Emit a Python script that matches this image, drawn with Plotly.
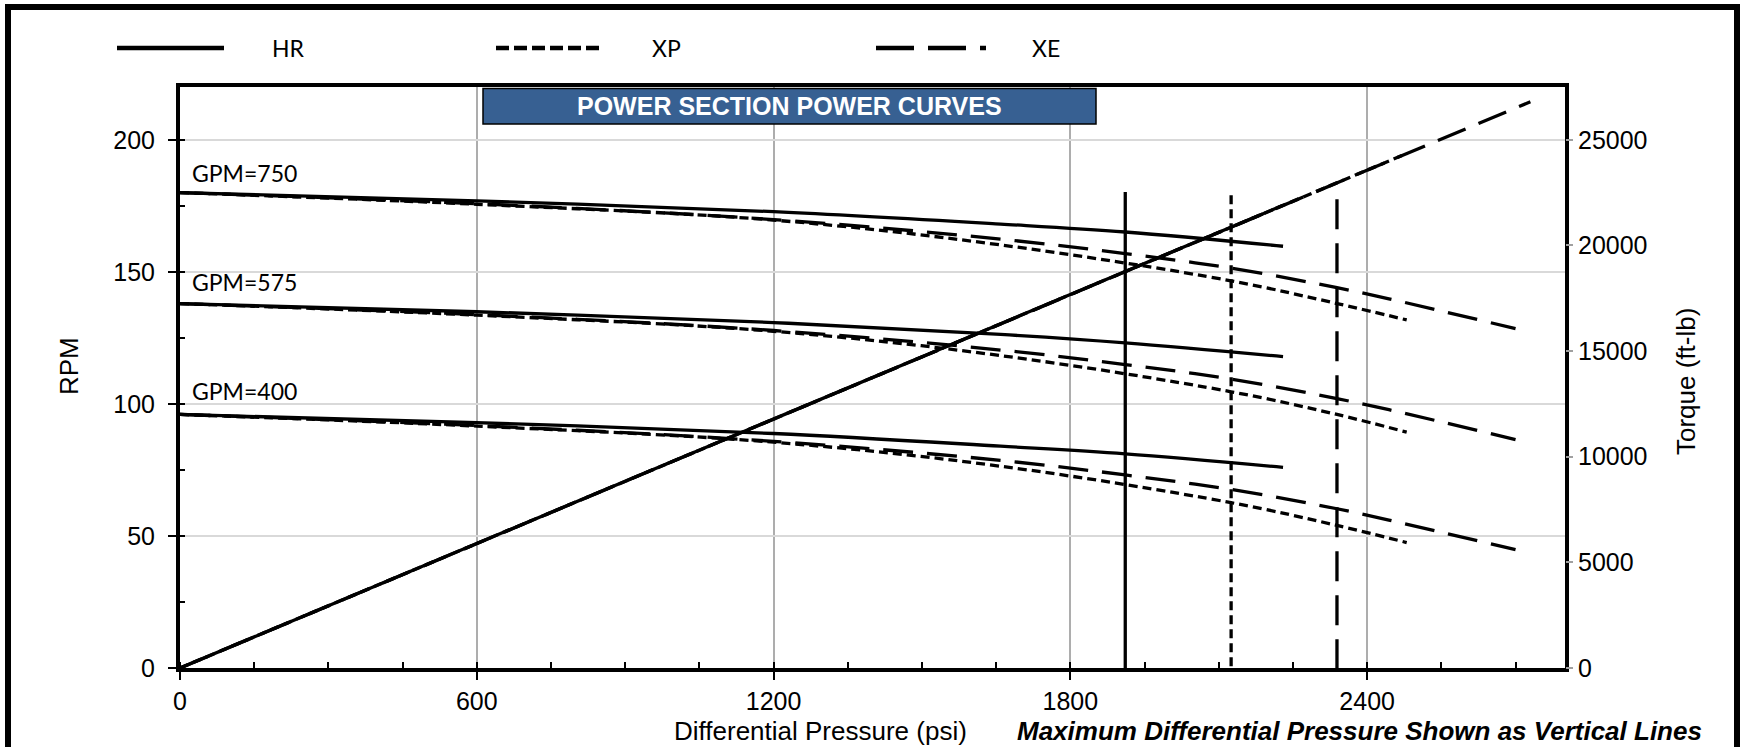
import plotly.graph_objects as go

# ---------------- data ----------------
# RPM curves vs differential pressure (psi)
hr_psi = [0, 600, 1200, 1659, 1911, 2230]
hr_750 = [180.0, 176.9, 172.8, 168.1, 165.1, 159.7]
hr_575 = [138.0, 134.9, 130.8, 126.3, 123.1, 117.9]
hr_400 = [96.0, 92.9, 88.8, 84.0, 81.1, 76.0]

xp_psi = [0, 600, 1200, 1659, 2125, 2339, 2480]
xp_750 = [180.0, 175.6, 169.6, 160.2, 146.6, 138.0, 131.8]
xp_575 = [138.0, 133.6, 127.5, 118.3, 104.6, 96.0, 89.3]
xp_400 = [96.0, 91.6, 85.5, 76.4, 62.6, 54.0, 47.5]

xe_psi = [0, 600, 1200, 1659, 1911, 2125, 2339, 2444, 2700]
xe_750 = [180.0, 175.8, 169.8, 162.4, 156.9, 151.4, 144.0, 139.8, 128.5]
xe_575 = [138.0, 133.8, 127.8, 120.4, 114.9, 109.4, 102.0, 97.8, 86.5]
xe_400 = [96.0, 91.8, 85.8, 78.6, 73.1, 67.6, 60.3, 56.0, 44.8]

# Torque (ft-lb) vs differential pressure, right axis
hr_torque_psi = [0, 2230]
hr_torque = [0, 21900]
xp_torque_psi = [0, 2480]
xp_torque = [0, 24350]
xe_torque_psi = [0, 2730]
xe_torque = [0, 26800]

# Maximum differential pressure (vertical lines)
max_dp_names = ["HR", "XP", "XE"]
max_dp_psi = [1911, 2125, 2339]
max_dp_top = [180.2, 179.0, 177.5]

# flow-rate labels
gpm_labels = ["GPM=750", "GPM=575", "GPM=400"]
gpm_label_rpm = [187.6, 146.3, 105.0]
gpm_label_psi = 20

x_ticks = [0, 600, 1200, 1800, 2400]
y_ticks = [0, 50, 100, 150, 200]
y2_ticks = [0, 5000, 10000, 15000, 20000, 25000]

# ---------------- styling ----------------
W, H = 1740, 747
L, R, T, B = 180, 1740 - 1565, 87, 747 - 668
PW, PH = W - L - R, H - T - B


def px(xp):
    return (xp - L) / PW


def py(yp):
    return (H - B - yp) / PH


LW = 3.3
DASH = {"HR": "solid", "XP": "9px,5px", "XE": "30px,14px"}
ARIAL = "Liberation Sans, Arial, sans-serif"
CAL = "Lato, Carlito, Calibri, sans-serif"

fig = go.Figure()

curves = [
    ("HR", hr_psi, [hr_750, hr_575, hr_400]),
    ("XP", xp_psi, [xp_750, xp_575, xp_400]),
    ("XE", xe_psi, [xe_750, xe_575, xe_400]),
]
for name, xs, series in curves:
    for ys in series:
        fig.add_trace(go.Scatter(
            x=xs, y=ys, mode="lines", line_shape="spline",
            line=dict(color="black", width=LW, dash=DASH[name]),
            showlegend=False, hoverinfo="skip"))

torques = [
    ("HR", hr_torque_psi, hr_torque),
    ("XP", xp_torque_psi, xp_torque),
    ("XE", xe_torque_psi, xe_torque),
]
for name, xs, ys in reversed(torques):
    fig.add_trace(go.Scatter(
        x=xs, y=ys, mode="lines", yaxis="y2",
        line=dict(color="black", width=LW, dash=DASH[name]),
        showlegend=False, hoverinfo="skip"))

for name, xv, top in zip(max_dp_names, max_dp_psi, max_dp_top):
    fig.add_trace(go.Scatter(
        x=[xv, xv], y=[top, 0], mode="lines",
        line=dict(color="black", width=LW, dash=DASH[name]),
        showlegend=False, hoverinfo="skip"))

annotations = []
for lab, yv in zip(gpm_labels, gpm_label_rpm):
    annotations.append(dict(
        x=gpm_label_psi, y=yv, xref="x", yref="y", text=lab, showarrow=False,
        xanchor="left", yanchor="middle", font=dict(family=CAL, size=23, color="black")))

# title box
shapes = [
    dict(type="rect", xref="paper", yref="paper",
         x0=px(483), x1=px(1096), y0=py(124), y1=py(88.5),
         fillcolor="#376092", line=dict(color="black", width=1.5), layer="above"),
]
annotations.append(dict(
    x=px(789), y=py(106), xref="paper", yref="paper",
    text="<b>POWER SECTION POWER CURVES</b>", showarrow=False,
    xanchor="center", yanchor="middle", font=dict(family=ARIAL, size=25, color="white")))

# legend (drawn manually)
legend_items = [("HR", 117, 224, 270), ("XP", 496, 604, 650), ("XE", 876, 986, 1030)]
legend_dash = {"HR": "solid", "XP": "13px,5px", "XE": "38px,14px"}
for name, x0, x1, xt in legend_items:
    shapes.append(dict(type="line", xref="paper", yref="paper",
                       x0=px(x0), x1=px(x1), y0=py(48), y1=py(48),
                       line=dict(color="black", width=4.5, dash=legend_dash[name])))
    annotations.append(dict(x=px(xt), y=py(48), xref="paper", yref="paper", text=name,
                            showarrow=False, xanchor="left", yanchor="middle",
                            font=dict(family=CAL, size=23, color="black")))

# axis titles
annotations += [
    dict(x=px(820), y=py(731), xref="paper", yref="paper", text="Differential Pressure (psi)",
         showarrow=False, xanchor="center", yanchor="middle",
         font=dict(family=ARIAL, size=26, color="black")),
    dict(x=px(1704), y=py(731), xref="paper", yref="paper",
         text="<b><i>Maximum Differential Pressure Shown as Vertical Lines</i></b>",
         showarrow=False, xanchor="right", yanchor="middle",
         font=dict(family=ARIAL, size=26, color="black")),
    dict(x=px(69), y=py(366), xref="paper", yref="paper", text="RPM", textangle=-90,
         showarrow=False, xanchor="center", yanchor="middle",
         font=dict(family=ARIAL, size=26, color="black")),
    dict(x=px(1686), y=py(381), xref="paper", yref="paper", text="Torque (ft-lb)", textangle=-90,
         showarrow=False, xanchor="center", yanchor="middle",
         font=dict(family=ARIAL, size=26, color="black")),
]

# outer frame
shapes.append(dict(type="rect", xref="paper", yref="paper",
                   x0=px(8), x1=px(1737), y0=py(770), y1=py(7),
                   line=dict(color="black", width=6), fillcolor="rgba(0,0,0,0)", layer="above"))

tickfont = dict(family=ARIAL, size=25, color="black")
fig.update_layout(
    width=W, height=H, margin=dict(l=L, r=R, t=T, b=B, autoexpand=False),
    paper_bgcolor="white", plot_bgcolor="white", showlegend=False,
    xaxis=dict(range=[0, 2800], tickvals=x_ticks, ticks="outside", ticklen=8, tickwidth=2,
               tickcolor="black", showline=True, linecolor="black", linewidth=4, mirror=True,
               showgrid=True, gridcolor="#ADADAD", gridwidth=1.5, zeroline=False,
               tickfont=tickfont, fixedrange=True, ticklabelstandoff=0,
               minor=dict(dtick=150, tick0=0, ticks="inside", ticklen=6, tickwidth=2,
                          tickcolor="black", showgrid=False)),
    yaxis=dict(range=[0, 220], tickvals=y_ticks, ticks="outside", ticklen=8, tickwidth=2,
               tickcolor="black", showline=True, linecolor="black", linewidth=4, mirror=True,
               showgrid=True, gridcolor="#D9D9D9", gridwidth=1.5, zeroline=False,
               tickfont=tickfont, fixedrange=True, ticklabelstandoff=8,
               minor=dict(dtick=25, tick0=0, ticks="inside", ticklen=5, tickwidth=2,
                          tickcolor="black", showgrid=False)),
    yaxis2=dict(range=[0, 27500], tickvals=y2_ticks, tickformat="d", overlaying="y", side="right",
                ticks="outside", ticklen=7, tickwidth=1.5, tickcolor="#A0A0A0",
                showline=False, showgrid=False, zeroline=False, tickfont=tickfont,
                fixedrange=True),
    shapes=shapes, annotations=annotations,
)

fig.write_html("out.html", config={"displayModeBar": False},
               post_script="document.body.style.margin='0';document.body.style.overflow='hidden';")
